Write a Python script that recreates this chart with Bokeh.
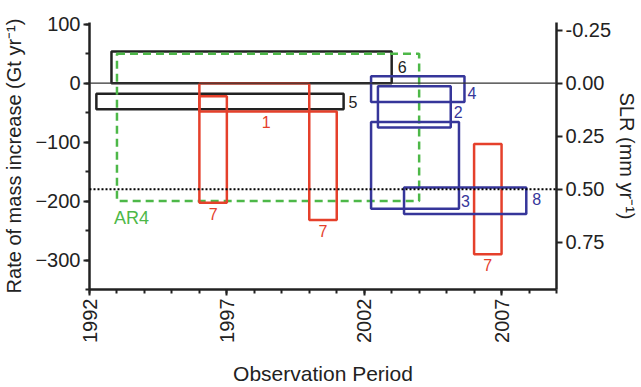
import math
from bokeh.plotting import figure
from bokeh.models import Range1d, LinearAxis, FixedTicker, NumeralTickFormatter, Span
from bokeh.core.properties import value
from bokeh.embed import file_html
from bokeh.resources import INLINE

FONT = "Liberation Sans"

# ---------------- data ----------------
x_major = [1992, 1997, 2002, 2007]
x_minor = list(range(1992, 2010))
gt_major = [100, 0, -100, -200, -300]
gt_minor = [100, 50, 0, -50, -100, -150, -200, -250, -300, -350]
slr_major = [-0.25, 0.0, 0.25, 0.5, 0.75]
gt_per_mm = 360
slr_reference = 0.5

black_labels = ["6", "5"]
black_start = [1992.8, 1992.25]
black_end = [2003.0, 2001.25]
black_high = [54, -18]
black_low = [0, -44]

ar4_label = "AR4"
ar4_start = [1993.0]
ar4_end = [2004.0]
ar4_high = [50]
ar4_low = [-200]

red_labels = ["1", "7", "7", "7"]
red_start = [1996.0, 1996.0, 2000.0, 2006.0]
red_end = [2000.0, 1997.0, 2001.0, 2007.0]
red_high = [0, -22, -48, -103]
red_low = [-48, -203, -232, -290]

blue_labels = ["4", "2", "3", "8"]
blue_start = [2002.25, 2002.5, 2002.25, 2003.45]
blue_end = [2005.65, 2005.15, 2005.45, 2007.9]
blue_high = [12, -5, -66, -177]
blue_low = [-32, -75, -213, -222]

# ---------------- styles ----------------
BLACK = "#222222"
RED = "#e5402b"
BLUE = "#36369a"
GREEN = "#4db848"

p = figure(width=641, height=387,
           x_range=Range1d(1992, 2009), y_range=Range1d(-350, 103),
           output_backend="svg", toolbar_location=None,
           min_border_left=87, min_border_right=83,
           min_border_top=22, min_border_bottom=93)
p.extra_y_ranges = {"slr": Range1d(start=350 / gt_per_mm, end=-103 / gt_per_mm)}
p.xgrid.visible = False
p.ygrid.visible = False
p.outline_line_color = None
p.background_fill_color = "white"

right_axis = LinearAxis(y_range_name="slr")
p.add_layout(right_axis, "right")

p.xaxis.ticker = FixedTicker(ticks=x_major, minor_ticks=x_minor)
p.xaxis.major_label_orientation = math.pi / 2
p.yaxis[0].ticker = FixedTicker(ticks=gt_major, minor_ticks=gt_minor)
right_axis.ticker = FixedTicker(ticks=slr_major, minor_ticks=[])
right_axis.formatter = NumeralTickFormatter(format="0.00")

p.xaxis.axis_label = "Observation Period"
p.xaxis.axis_label_standoff = 16
p.yaxis[0].axis_label = "Rate of mass increase (Gt yr\u207b\u00b9)"
p.yaxis[0].axis_label_standoff = 7
right_axis.axis_label = "SLR (mm yr\u207b\u00b9)"
right_axis.axis_label_standoff = 2

for ax in [p.xaxis[0], p.yaxis[0], right_axis]:
    ax.axis_line_width = 2.5
    ax.axis_line_color = BLACK
    ax.major_tick_line_width = 2
    ax.major_tick_line_color = BLACK
    ax.minor_tick_line_width = 2
    ax.minor_tick_line_color = BLACK
    ax.major_tick_out = 6
    ax.major_tick_in = 0
    ax.minor_tick_out = 4
    ax.minor_tick_in = 0
    ax.major_label_text_font = FONT
    ax.major_label_text_font_size = "20px"
    ax.major_label_text_color = BLACK
    ax.major_label_standoff = 3
    ax.axis_label_text_font = FONT
    ax.axis_label_text_font_size = "20px"
    ax.axis_label_text_font_style = "normal"
    ax.axis_label_text_color = BLACK
p.xaxis.axis_label_text_font_size = "21px"

# reference lines
p.add_layout(Span(location=0, dimension="width", line_color="#333333", line_width=1.2))
p.add_layout(Span(location=slr_reference, dimension="width", y_range_name="slr",
                  line_color="black", line_width=2, line_dash="2 2"))

# boxes
p.quad(left=black_start, right=black_end, top=black_high, bottom=black_low,
       fill_color=None, line_color=BLACK, line_width=2.5)
p.quad(left=ar4_start, right=ar4_end, top=ar4_high, bottom=ar4_low,
       fill_color=None, line_color=GREEN, line_width=2.5, line_dash="8 5")
p.quad(left=red_start, right=red_end, top=red_high, bottom=red_low,
       fill_color=None, line_color=RED, line_width=2.5)
p.quad(left=blue_start, right=blue_end, top=blue_high, bottom=blue_low,
       fill_color=None, line_color=BLUE, line_width=2.5)


def add_label(text, x, y, color, xo, yo, align, baseline, size="16px"):
    p.text(x=[x], y=[y], text=[text], x_offset=xo, y_offset=yo,
           text_align=align, text_baseline=baseline, text_color=color,
           text_font=value(FONT), text_font_size=size)


# black labels: to the right of the box, vertically centred
add_label(black_labels[0], black_end[0], (black_high[0] + black_low[0]) / 2, BLACK, 6, 0, "left", "middle")
add_label(black_labels[1], black_end[1], (black_high[1] + black_low[1]) / 2, BLACK, 5, 1, "left", "middle")
# red labels: below the box
add_label(red_labels[0], (red_start[0] + red_end[0]) / 2, red_low[0], RED, 12, 4, "center", "top")
for i in range(1, 4):
    add_label(red_labels[i], (red_start[i] + red_end[i]) / 2, red_low[i], RED, 0, 5, "center", "top")
# blue labels: right of box
add_label(blue_labels[0], blue_end[0], (blue_high[0] + blue_low[0]) / 2, BLUE, 3, 4, "left", "middle")
add_label(blue_labels[1], blue_end[1], blue_low[1], BLUE, 3, -15, "left", "middle")
add_label(blue_labels[2], blue_end[2], blue_low[2], BLUE, 2, -8, "left", "middle")
add_label(blue_labels[3], blue_end[3], (blue_high[3] + blue_low[3]) / 2, BLUE, 6, -2, "left", "middle")
# AR4 label
add_label(ar4_label, ar4_start[0], ar4_low[0], GREEN, -3, 7, "left", "top", size="18px")

open("out.html", "w").write(file_html(p, INLINE))
